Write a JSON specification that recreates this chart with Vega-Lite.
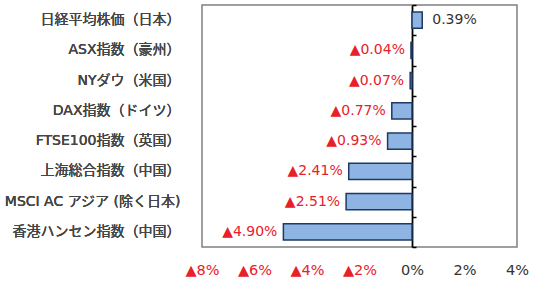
{
  "$schema": "https://vega.github.io/schema/vega-lite/v6.json",
  "width": 315,
  "height": 242,
  "autosize": {"type": "none"},
  "padding": {"left": 202, "top": 5, "right": 33, "bottom": 45},
  "background": "white",
  "config": {
    "view": {"stroke": "#808080", "strokeWidth": 1.5},
    "font": "DejaVu Sans, Noto Sans CJK JP",
    "text": {"font": "DejaVu Sans, Noto Sans CJK JP", "fontSize": 14}
  },
  "data": {
    "values": [
      {"name": "日経平均株価（日本）", "v": 0.39},
      {"name": "ASX指数（豪州）", "v": -0.04},
      {"name": "NYダウ（米国）", "v": -0.07},
      {"name": "DAX指数（ドイツ）", "v": -0.77},
      {"name": "FTSE100指数（英国）", "v": -0.93},
      {"name": "上海総合指数（中国）", "v": -2.41},
      {"name": "MSCI AC アジア (除く日本)", "v": -2.51},
      {"name": "香港ハンセン指数（中国）", "v": -4.90}
    ]
  },
  "transform": [
    {"calculate": "datum.v < 0 ? '▲' + format(-datum.v, '.2f') + '%' : format(datum.v, '.2f') + '%'", "as": "label"}
  ],
  "encoding": {
    "y": {
      "field": "name",
      "type": "nominal",
      "sort": null,
      "scale": {"paddingInner": 0, "paddingOuter": 0},
      "axis": {
        "orient": "left",
        "title": null,
        "domain": false,
        "ticks": false,
        "labelPadding": 22,
        "labelFontSize": 14,
        "labelColor": "#454545",
        "labelFont": "DejaVu Sans, Noto Sans CJK JP",
        "labelLimit": 300
      }
    }
  },
  "layer": [
    {
      "mark": {"type": "bar", "height": {"band": 0.53}, "fill": "#8db4e2", "stroke": "#1f3864", "strokeWidth": 1.5},
      "encoding": {
        "x": {
          "field": "v",
          "type": "quantitative",
          "scale": {"domain": [-8, 4], "nice": false, "zero": false},
          "axis": {
            "title": null,
            "values": [-8, -6, -4, -2, 0, 2, 4],
            "domain": false,
            "ticks": false,
            "grid": false,
            "labelFlush": false,
            "labelPadding": 16,
            "labelFontSize": 14.5,
            "labelFont": "DejaVu Sans, Noto Sans CJK JP",
            "labelExpr": "datum.value < 0 ? '▲' + (-datum.value) + '%' : datum.value + '%'",
            "labelColor": {"condition": {"test": "datum.value < 0", "value": "#e8202a"}, "value": "#333333"}
          }
        }
      }
    },
    {
      "mark": {"type": "rule", "strokeOpacity": 0},
      "encoding": {
        "x": {"datum": 0, "type": "quantitative"},
        "y": {
          "field": "name",
          "type": "nominal",
          "sort": null,
          "axis": {
            "orient": "right",
            "offset": -105,
            "title": null,
            "labels": false,
            "domain": true,
            "domainColor": "#000000",
            "domainWidth": 1.8,
            "ticks": true,
            "tickColor": "#000000",
            "tickWidth": 1.5,
            "tickSize": 4,
            "tickBand": "extent"
          }
        }
      }
    },
    {
      "transform": [{"filter": "datum.v >= 0"}],
      "mark": {"type": "text", "align": "left", "dx": 10, "color": "#333333"},
      "encoding": {
        "x": {"field": "v", "type": "quantitative"},
        "text": {"field": "label"}
      }
    },
    {
      "transform": [{"filter": "datum.v < 0"}],
      "mark": {"type": "text", "align": "right", "dx": -6, "color": "#e8202a"},
      "encoding": {
        "x": {"field": "v", "type": "quantitative"},
        "text": {"field": "label"}
      }
    }
  ]
}
